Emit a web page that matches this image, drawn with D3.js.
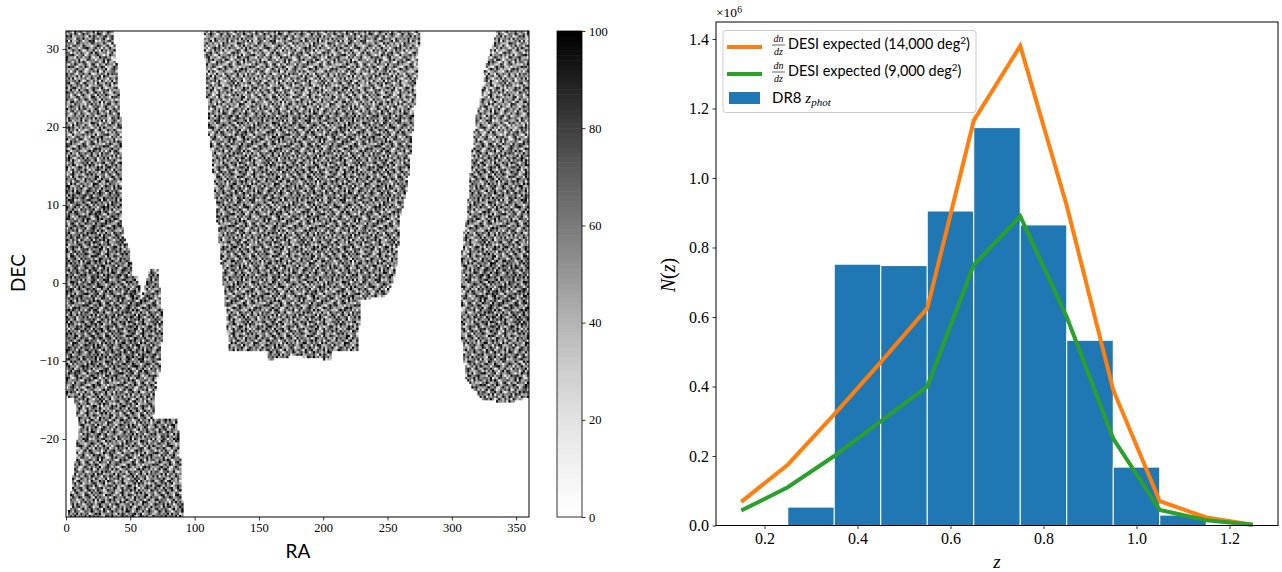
<!DOCTYPE html>
<html><head><meta charset="utf-8">
<script src="https://cdn.jsdelivr.net/npm/d3@7/dist/d3.min.js"></script>
<style>
html,body{margin:0;padding:0;background:#fff;overflow:hidden}
svg{display:block}
text{fill:#000}
</style></head><body>
<svg id="c" width="1282" height="572"></svg>
<script>
// ---------- right panel data ----------
const binEdges = [0.25,0.35,0.45,0.55,0.65,0.75,0.85,0.95,1.05];
const binWidth = 0.1;
const dr8Counts = [0.053,0.752,0.748,0.905,1.145,0.865,0.533,0.168,0.030];
const zCentres = [0.15,0.25,0.35,0.45,0.55,0.65,0.75,0.85,0.95,1.05,1.15,1.25];
const desi14000 = [0.068,0.175,0.320,0.470,0.625,1.165,1.380,0.920,0.390,0.070,0.023,0.002];
const desi9000  = [0.043,0.110,0.200,0.300,0.400,0.750,0.890,0.600,0.250,0.045,0.015,0.002];
const zTicks = [0.2,0.4,0.6,0.8,1.0,1.2];
const nTicks = [0,0.2,0.4,0.6,0.8,1.0,1.2,1.4];
// ---------- left panel data ----------
const raTicks = [0,50,100,150,200,250,300,350];
const decTicks = [-20,-10,0,10,20,30];
const cbTicks = [0,20,40,60,80,100];
// Survey outlines, [RA, DEC] vertices.
const footprintWest = [[0,32.3],[36.5,32.3],[38.9,28.6],[40.4,26],[42.8,20.3],[42.8,11.9],[43.5,8.7],[44.3,6.2],[49.8,4.2],[51.3,1],[56,.8],[58.3,-2.2],[65.3,1.9],[71.5,1.7],[73,-.9],[74.6,-3.5],[74.6,-7.3],[73.1,-11.2],[70.8,-12.2],[69.2,-14.4],[67.7,-17.3],[86.3,-17.4],[87.9,-20.1],[89.4,-24],[91,-30.1],[1.6,-30.1],[5.4,-24.9],[7.8,-22],[9.3,-18.8],[9.3,-17.6],[6.2,-14.7],[0,-14.7]];
const footprintCentral = [[106.5,32.3],[108.9,26.3],[110.4,19.9],[113.5,16],[116.6,9.4],[119.8,4.2],[123.6,-2.2],[126,-7.3],[126.8,-8.7],[156.3,-8.7],[156.3,-9.9],[174.2,-9.4],[182,-9.4],[206.8,-9.9],[206.8,-8.8],[227,-8.8],[227,-7.3],[228.6,-4.1],[228.6,-2.2],[236.4,-2.2],[238,-1.8],[246.5,-1.9],[250.4,-1.2],[255.8,.8],[258.2,4.2],[259.7,8.5],[265.2,11.9],[268.3,17],[269.8,19.9],[272.9,26.3],[275.3,32.3]];
const footprintEast = [[335.1,32.3],[331.3,30.5],[325.8,27.6],[323.5,24.5],[318.8,21.2],[316.5,18.1],[314.2,13.8],[311.8,8.7],[308.7,5.9],[307.2,2.1],[307.2,-4.7],[307.9,-7.7],[311,-12.1],[315.7,-13.3],[323.5,-15],[345.3,-15.3],[360,-14.6],[360,32.3]];
// The map's individual cells are too many to read one by one: this is a hand-typed
// sample of the grain, repeated inside the outlines. Digits index grainLevels.
const grainLevels = [16,34,44,50,56,62,70,80,92,100];
const grainRows = [
"64739256481937465208749361584726930586472195",
"57264918357024869135647209386154792680347512",
"39518640275396147286059473162985047318269640",
"82647305916482573094681275390846129753608417",
"46093782514960328715946038271659304862751936",
"75381946027584169326507498213670945128364059",
"18562407393726054981372650948137526409871325",
"93746025816439081572694823705961382475069218",
"60285397146820937541602973548126094735912846",
"24971653089517264309785146093287516243890571",
"58306942175083649721358602794153068492713560",
"71649238506947185302964713085629471836250974",
"36092578149320576816243970581674293051786329",
"89417350268671940253786291403598160724395816",
"42758169034258713690415826397041582967130428",
"15860793426094328571976304581236749085263791",
"67394028517360851429063758194205386714902653",
"90526471386197264085387149620573918246705382",
"34819056273548096713254908367129640583192746",
"72065834910263751948670351924086375291460837",
"58179402637490182356719286034751206948537160",
"26943710585172649037851620497386152407968324",
"83057296146835970214963587210694783150426597",
"49612583079207318645092476835213960578341206",
"17384960254761590823647301958640271395082674",
"65290318746053482971038592467189503726491835",
"30847165920419678350279146305872614098357942",
"94156802733685204196485730192546837261904578",
"51728430691972356048167925840361079584213760",
"86395017248140937265903618472905312687059413",
"23604789515826071493250479683172946503718296",
"78451962303597416820716345092864185037292651",
"40973625187364285109584271360957423198660375",
"12586043979021563784326908715439086152473908"];
// Patches that read darker or lighter than the rest: [RA from, RA to, DEC from, DEC to, change].
const regionShade = [[0,70,-12,12,5],[320,360,-6,3,5],[310,360,18,33,-6],[106,276,22,33,-5],[0,40,18,33,-4]];
const cellRA = 1.6, cellDEC = 0.3;

// ---------- layout ----------
const svg = d3.select("#c");
const serif = "'Liberation Serif','DejaVu Serif',serif";
const sans = "Lato,'Open Sans','DejaVu Sans',sans-serif";
const L = {l:66,r:529,t:31,b:517};
const R = {l:716,r:1278,t:22,b:525.5};
const C = {l:557,r:582,t:31,b:517};

const xRA = d3.scaleLinear([0,360],[L.l,L.r]);
const yDEC = d3.scaleLinear([-30,32.3],[L.b,L.t]);
const grey = d3.scaleSequential(d3.interpolateGreys).domain([0,100]);
const yCB = d3.scaleLinear([0,100],[C.b,C.t]);
const xZ = d3.scaleLinear([0.2,1.2],[764.5,1229.5]);
const yN = d3.scaleLinear([0,1.4],[R.b,39]);

function styleAxis(g,size,family){
  g.select(".domain").remove();
  g.selectAll("line").attr("stroke","#000").attr("stroke-width",0.8);
  g.selectAll("text").attr("font-family",family).attr("font-size",size).attr("fill","#000");
}

// ---------- left: map ----------
svg.append("defs").append("filter").attr("id","soft")
  .attr("filterUnits","userSpaceOnUse").attr("x",L.l).attr("y",L.t).attr("width",L.r-L.l).attr("height",L.b-L.t)
  .append("feGaussianBlur").attr("stdDeviation",0.35);
const polys = [footprintWest,footprintCentral,footprintEast];
const cells = [];
const nR = grainRows.length, nC = grainRows[0].length;
d3.range(0,360,cellRA).forEach((ra,ci)=>{
  d3.range(-30,32.3,cellDEC).forEach((dec,ri)=>{
    const pt=[ra+cellRA/2,dec+cellDEC/2];
    if(!polys.some(p=>d3.polygonContains(p,pt))) return;
    const c=(ci+17*Math.floor(ri/nR))%nC;
    let v=grainLevels[+grainRows[ri%nR][c]];
    regionShade.forEach(s=>{ if(pt[0]>=s[0]&&pt[0]<s[1]&&pt[1]>=s[2]&&pt[1]<s[3]) v+=s[4]; });
    cells.push({ra,dec,v:Math.min(100,v)});
  });
});
svg.append("clipPath").attr("id","mapClip").append("rect")
  .attr("x",L.l).attr("y",L.t).attr("width",L.r-L.l).attr("height",L.b-L.t);
svg.append("g").attr("clip-path","url(#mapClip)").append("g").attr("filter","url(#soft)")
  .selectAll("rect").data(cells).join("rect")
  .attr("x",d=>xRA(d.ra)).attr("y",d=>yDEC(d.dec+cellDEC))
  .attr("width",xRA(cellRA)-xRA(0)+0.3).attr("height",yDEC(0)-yDEC(cellDEC)+0.3)
  .attr("fill",d=>grey(d.v));
svg.append("rect").attr("x",L.l).attr("y",L.t).attr("width",L.r-L.l).attr("height",L.b-L.t)
  .attr("fill","none").attr("stroke","#000").attr("stroke-width",1);
svg.append("g").attr("transform",`translate(0,${L.b})`)
  .call(d3.axisBottom(xRA).tickValues(raTicks).tickSize(3.5).tickPadding(3).tickFormat(d3.format("d")))
  .call(styleAxis,12.5,serif);
svg.append("g").attr("transform",`translate(${L.l},0)`)
  .call(d3.axisLeft(yDEC).tickValues(decTicks).tickSize(3.5).tickPadding(3.5).tickFormat(d3.format("d")))
  .call(styleAxis,12.5,serif);
svg.append("text").text("RA").attr("x",298).attr("y",558).attr("text-anchor","middle")
  .attr("font-family",sans).attr("font-size",19);
svg.append("text").text("DEC").attr("transform","translate(25,273) rotate(-90)").attr("text-anchor","middle")
  .attr("font-family",sans).attr("font-size",19);

// ---------- colour bar ----------
svg.append("g").selectAll("rect").data(d3.range(0,100)).join("rect")
  .attr("x",C.l).attr("width",C.r-C.l)
  .attr("y",d=>yCB(d+1)).attr("height",d=>yCB(d)-yCB(d+1)+0.5)
  .attr("fill",d=>grey(d+0.5));
svg.append("rect").attr("x",C.l).attr("y",C.t).attr("width",C.r-C.l).attr("height",C.b-C.t)
  .attr("fill","none").attr("stroke","#000").attr("stroke-width",0.8);
svg.append("g").attr("transform",`translate(${C.r},0)`)
  .call(d3.axisRight(yCB).tickValues(cbTicks).tickSize(3.5).tickPadding(3.5))
  .call(styleAxis,12.5,serif);

// ---------- right: histogram ----------
svg.append("g").selectAll("rect").data(binEdges).join("rect")
  .attr("x",d=>xZ(d)).attr("width",d=>xZ(d+binWidth)-xZ(d))
  .attr("y",(d,i)=>yN(dr8Counts[i])).attr("height",(d,i)=>yN(0)-yN(dr8Counts[i]))
  .attr("fill","#1f77b4").attr("stroke","#fff").attr("stroke-width",1);
const line = d3.line().x((d,i)=>xZ(zCentres[i])).y(d=>yN(d));
svg.append("path").attr("d",line(desi14000)).attr("fill","none").attr("stroke","#ff7f0e").attr("stroke-width",4);
svg.append("path").attr("d",line(desi9000)).attr("fill","none").attr("stroke","#2ca02c").attr("stroke-width",4);
svg.append("rect").attr("x",R.l).attr("y",R.t).attr("width",R.r-R.l).attr("height",R.b-R.t)
  .attr("fill","none").attr("stroke","#000").attr("stroke-width",1);
svg.append("g").attr("transform",`translate(0,${R.b})`)
  .call(d3.axisBottom(xZ).tickValues(zTicks).tickSize(3.5).tickPadding(3.5).tickFormat(d3.format(".1f")))
  .call(styleAxis,16,serif);
svg.append("g").attr("transform",`translate(${R.l},0)`)
  .call(d3.axisLeft(yN).tickValues(nTicks).tickSize(3.5).tickPadding(3.5).tickFormat(d3.format(".1f")))
  .call(styleAxis,16,serif);
const mult = svg.append("text").attr("x",716).attr("y",17).attr("font-family",serif).attr("font-size",13.5);
mult.append("tspan").text("×10");
mult.append("tspan").text("6").attr("font-size",9.5).attr("dy",-4);
svg.append("text").text("z").attr("x",997).attr("y",568).attr("text-anchor","middle")
  .attr("font-family",serif).attr("font-style","italic").attr("font-size",19);
const nz = svg.append("text").attr("transform","translate(675,275) rotate(-90)").attr("text-anchor","middle")
  .attr("font-family",serif).attr("font-size",20);
nz.append("tspan").text("N").attr("font-style","italic");
nz.append("tspan").text("(");
nz.append("tspan").text("z").attr("font-style","italic");
nz.append("tspan").text(")");

// ---------- legend ----------
const leg = svg.append("g");
leg.append("rect").attr("x",723).attr("y",30.5).attr("width",253).attr("height",82).attr("rx",3)
  .attr("fill","#fff").attr("fill-opacity",0.8).attr("stroke","#ccc").attr("stroke-width",1);
function legendFrac(y){
  const t=(s,yy)=>leg.append("text").text(s).attr("x",778.5).attr("y",yy).attr("text-anchor","middle")
    .attr("font-family",serif).attr("font-style","italic").attr("font-size",10);
  t("dn",y-7); t("dz",y+5.5);
  leg.append("line").attr("x1",772).attr("x2",785).attr("y1",y-4).attr("y2",y-4).attr("stroke","#000").attr("stroke-width",0.6);
}
function legendLine(y,color,area){
  leg.append("line").attr("x1",727).attr("x2",762).attr("y1",y-1).attr("y2",y-1).attr("stroke",color).attr("stroke-width",4);
  legendFrac(y+1);
  const t=leg.append("text").attr("x",788).attr("y",y+1).attr("font-family",sans).attr("font-size",14.4);
  t.append("tspan").text(`DESI expected (${area} deg`);
  t.append("tspan").text("2").attr("font-size",10).attr("dy",-5);
  t.append("tspan").text(")").attr("dy",5);
}
legendLine(48,"#ff7f0e","14,000");
legendLine(75,"#2ca02c","9,000");
leg.append("rect").attr("x",729).attr("y",92).attr("width",31).attr("height",12).attr("fill","#1f77b4");
const dr = leg.append("text").attr("x",772).attr("y",103).attr("font-family",sans).attr("font-size",15);
dr.append("tspan").text("DR8 ");
dr.append("tspan").text("z").attr("font-family",serif).attr("font-style","italic");
dr.append("tspan").text("phot").attr("font-family",serif).attr("font-style","italic").attr("font-size",11).attr("dy",3);
</script>
</body></html>
